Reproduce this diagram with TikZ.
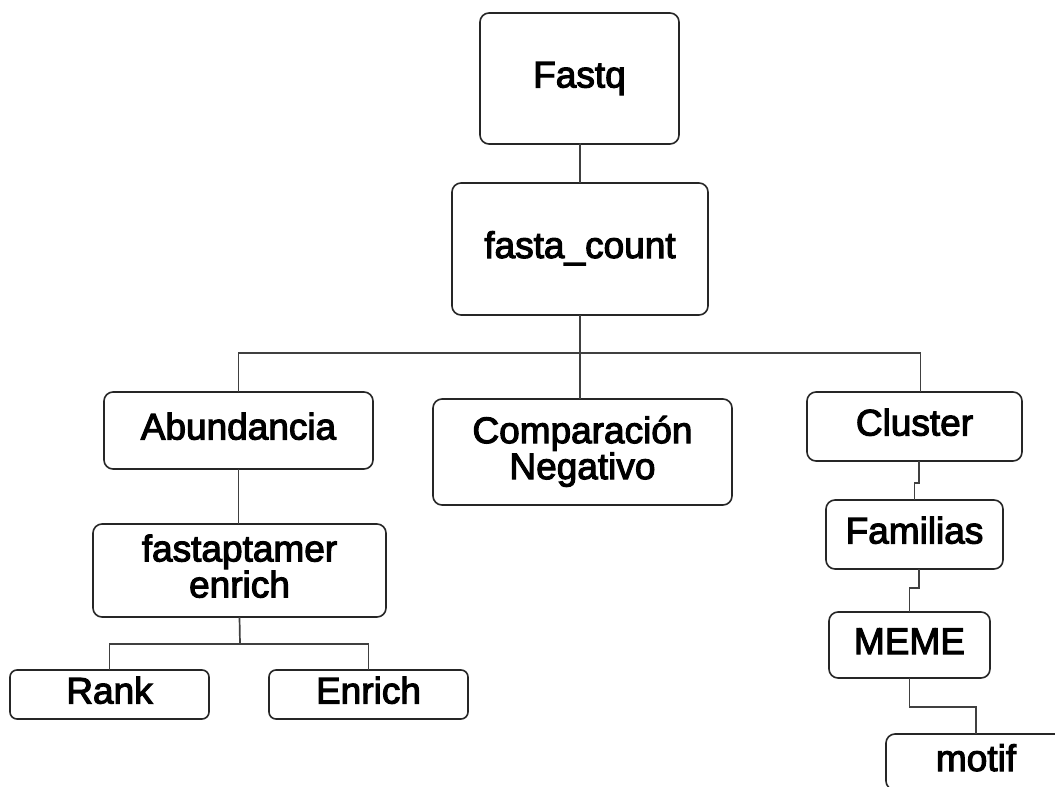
\documentclass[tikz,border=0pt]{standalone}
\usepackage{fontspec}
\newfontfamily\boxfont{Liberation Sans}[FakeBold=3]
\newcommand\lstrut{\rule[-9pt]{0pt}{36pt}}
\begin{document}
\begin{tikzpicture}[x=1pt,y=-1pt,
  box/.style={draw=black!85, line width=1.6pt, rounded corners=9pt,
    inner sep=0pt, outer sep=0pt, align=center,
    font=\boxfont\fontsize{37}{36}\selectfont},
  link/.style={draw=black!75, line width=1.7pt}]
\useasboundingbox (0,0) rectangle (1055,787);
\clip (0,0) rectangle (1055,787);

% boxes
\node[box, minimum width=199pt, minimum height=131pt] (fastq) at (579.5,78.5) {\lstrut Fastq};
\node[box, minimum width=256pt, minimum height=132pt] (fc) at (580,249) {\lstrut fasta\_count};
\node[box, minimum width=269pt, minimum height=77pt] (abund) at (238.5,430.5) {\lstrut Abundancia};
\node[box, minimum width=299pt, minimum height=106pt] (comp) at (582.5,452) {Comparación\\Negativo\rule[-9pt]{0pt}{0pt}};
\node[box, minimum width=215pt, minimum height=69pt] (cluster) at (914.5,426.5) {\lstrut Cluster};
\node[box, minimum width=177pt, minimum height=69pt] (fam) at (914.5,534.5) {\lstrut Familias};
\node[box, minimum width=161pt, minimum height=66pt] (meme) at (909.5,645) {\lstrut MEME};
\node[box, minimum width=180pt, minimum height=56pt] (motif) at (976,762) {\lstrut motif};
\node[box, minimum width=293pt, minimum height=93pt] (fe) at (239.5,570.5) {fastaptamer\\enrich\rule[-9pt]{0pt}{0pt}};
\node[box, minimum width=199pt, minimum height=49pt, rounded corners=7pt] (rank) at (109.5,694.5) {\lstrut Rank};
\node[box, minimum width=199pt, minimum height=49pt, rounded corners=7pt] (enr) at (368.5,694.5) {\lstrut Enrich};

% connectors
\coordinate (bus) at (580,353);
\coordinate (fesplit) at (240,644);
\draw[link] (fastq.south) -- (fc.south |- fastq.south) -- (fc.north);
\draw[link] (fc.south) -- (bus);
\draw[link] (abund.north) |- (bus) -| ([xshift=6pt]cluster.north);
\draw[link] (bus) -- (bus |- comp.north);
\draw[link] (abund.south) -- (abund.south |- fe.north);
\draw[link] (fe.south) -- (fesplit);
\draw[link] (rank.north) |- (fesplit) -| (enr.north);
\draw[link] ([xshift=4.5pt]cluster.south) -- ++(0,22) -| (fam.north);
\draw[link] ([xshift=4.5pt]fam.south) -- ++(0,19) -| (meme.north);
\draw[link] (meme.south) -- ++(0,29) -| (motif.north);
\end{tikzpicture}
\end{document}
